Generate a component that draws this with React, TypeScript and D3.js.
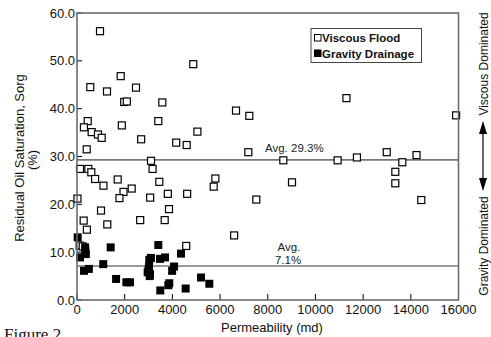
import React from "react";
import * as d3 from "d3";

const viscousFlood: [number, number][] = [
  [965, 56.2], [4877, 49.3], [1832, 46.8], [558, 44.5], [1258, 43.6], [2474, 44.4],
  [1980, 41.4], [2090, 41.5], [3578, 41.3], [449, 37.4], [290, 36.1], [1880, 36.5],
  [3410, 37.4], [616, 35.1], [880, 34.6], [1035, 33.9], [5050, 35.2], [2690, 33.6],
  [4160, 32.9], [4600, 32.4], [6669, 39.6], [7227, 38.5], [7186, 30.9], [407, 31.5],
  [3104, 29.1], [3170, 27.4], [126, 27.4], [475, 27.4], [600, 26.7], [760, 25.3],
  [1707, 25.2], [3452, 24.7], [1110, 23.9], [2294, 23.3], [1950, 22.6], [3068, 21.4],
  [3810, 22.2], [4620, 22.2], [1780, 21.3], [20, 21.2], [1007, 18.7], [280, 16.6],
  [413, 14.7], [1271, 15.8], [2650, 16.7], [3678, 16.7], [3858, 19.0], [6590, 13.5],
  [4580, 11.3], [110, 11.4], [240, 11.2], [5733, 23.7], [5803, 25.4], [7520, 21.0],
  [8653, 29.2], [9017, 24.6], [10930, 29.2], [11740, 29.8], [12990, 30.9], [13643, 28.8],
  [14240, 30.3], [13350, 26.8], [13350, 24.4], [14440, 20.9], [15900, 38.6], [11300, 42.2],
];

const gravityDrainage: [number, number][] = [
  [29, 13.1], [340, 11.0], [350, 10.3], [370, 9.6], [126, 8.9], [293, 6.1], [497, 6.5],
  [1100, 7.5], [1413, 11.0], [1640, 4.4], [2070, 3.7], [2223, 3.7], [3410, 11.5],
  [3033, 8.4], [3100, 8.8], [3020, 7.1], [2964, 5.8], [3062, 5.4], [3000, 6.4], [3050, 5.0],
  [3481, 8.6], [3691, 8.9], [4362, 9.7], [4070, 7.0], [3990, 6.1], [3494, 2.0], [3830, 3.1],
  [3870, 3.5], [4558, 2.4], [5201, 4.7], [5549, 3.4],
];

const xTicks = [0, 2000, 4000, 6000, 8000, 10000, 12000, 14000, 16000];
const yTicks = [0, 10, 20, 30, 40, 50, 60];
const avgViscous = 29.3;
const avgGravity = 7.1;

export default function App() {
  const left = 77, right = 458.5, top = 13, bottom = 300;
  const x = d3.scaleLinear().domain([0, 16000]).range([left, right]);
  const y = d3.scaleLinear().domain([0, 60]).range([bottom, top]);
  const font = "Arial, 'Liberation Sans', Helvetica, sans-serif";
  const frame = "#6b6b6b";
  const ms = 7;
  const fs = 8;
  const arrowX = 483;
  return (
    <svg width={491} height={337} style={{ position: "absolute", left: 0, top: 0 }} fontFamily={font}>
      <rect x={0} y={0} width={491} height={337} fill="#fff" />
      {/* avg lines */}
      <line x1={left} x2={right} y1={y(avgViscous)} y2={y(avgViscous)} stroke="#777" strokeWidth={1.6} />
      <line x1={left} x2={right} y1={y(avgGravity)} y2={y(avgGravity)} stroke="#777" strokeWidth={1.6} />
      {/* ticks */}
      {yTicks.map((t) => (
        <g key={"y" + t}>
          <line x1={left} x2={left + 5} y1={y(t)} y2={y(t)} stroke="#000" strokeWidth={1} />
          <text x={75} y={y(t)} dy="0.35em" textAnchor="end" fontSize={13} fill="#111">{t.toFixed(1)}</text>
        </g>
      ))}
      {xTicks.map((t) => (
        <g key={"x" + t}>
          <line x1={x(t)} x2={x(t)} y1={bottom} y2={bottom - 6} stroke="#000" strokeWidth={1} />
          <text x={x(t)} y={314} textAnchor="middle" fontSize={13} fill="#111">{t}</text>
        </g>
      ))}
      {/* points */}
      {viscousFlood.map(([k, v], i) => (
        <rect key={"v" + i} x={x(k) - ms / 2} y={y(v) - ms / 2} width={ms} height={ms} fill="#fff" stroke="#000" strokeWidth={1.2} />
      ))}
      {gravityDrainage.map(([k, v], i) => (
        <rect key={"g" + i} x={x(k) - fs / 2} y={y(v) - fs / 2} width={fs} height={fs} fill="#000" />
      ))}
      {/* frame */}
      <rect x={left} y={top} width={right - left} height={bottom - top} fill="none" stroke={frame} strokeWidth={1.6} />
      {/* avg labels */}
      <text x={265} y={152} fontSize={11.5} fill="#222">Avg. 29.3%</text>
      <text x={289} y={251} fontSize={11.5} fill="#222" textAnchor="middle">Avg.</text>
      <text x={288} y={264} fontSize={11.5} fill="#222" textAnchor="middle">7.1%</text>
      {/* legend */}
      <rect x={311} y={28.5} width={110.5} height={34} fill="#fff" stroke="#444" strokeWidth={1} />
      <rect x={314.5} y={34.5} width={6.5} height={6.5} fill="#fff" stroke="#000" strokeWidth={1} />
      <text x={322} y={42} fontSize={11.5} fontWeight="bold" fill="#111">Viscous Flood</text>
      <rect x={314} y={49.5} width={7.5} height={7.5} fill="#000" />
      <text x={322} y={57.5} fontSize={11.5} fontWeight="bold" fill="#111">Gravity Drainage</text>
      {/* axis titles */}
      <text transform={`translate(24,158) rotate(-90)`} textAnchor="middle" fontSize={13} fill="#111">Residual Oil Saturation, Sorg</text>
      <text transform={`translate(37,160) rotate(-90)`} textAnchor="middle" fontSize={13} fill="#111">(%)</text>
      <text x={272} y={332} textAnchor="middle" fontSize={13} fill="#111">Permeability (md)</text>
      {/* right annotations */}
      <text transform={`translate(488,64) rotate(-90)`} textAnchor="middle" fontSize={12} fill="#111">Viscous Dominated</text>
      <text transform={`translate(488,246) rotate(-90)`} textAnchor="middle" fontSize={12} fill="#111">Gravity Dominated</text>
      <line x1={arrowX} x2={arrowX} y1={130} y2={182} stroke="#000" strokeWidth={1.2} />
      <path d={`M${arrowX},121 L${arrowX - 4},134 L${arrowX + 4},134 Z`} fill="#000" />
      <path d={`M${arrowX},191 L${arrowX - 4},178 L${arrowX + 4},178 Z`} fill="#000" />
      {/* caption */}
      <text x={4} y={340} fontFamily="'Liberation Serif', 'Times New Roman', serif" fontSize={17} fill="#111">Figure 2</text>
    </svg>
  );
}
